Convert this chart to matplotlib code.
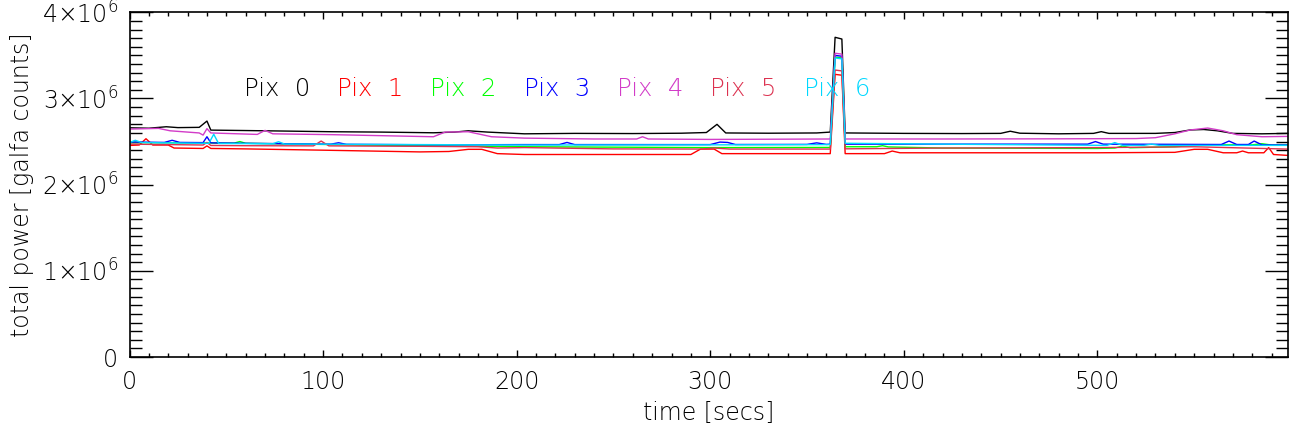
import matplotlib
matplotlib.use('Agg')
import matplotlib.pyplot as plt
from matplotlib.ticker import MultipleLocator, FixedLocator, FixedFormatter

# total power per pixel (units of 1e6 galfa counts)
pix0_t = [0, 10, 19, 25, 36, 40, 42, 60, 80, 105, 130, 157, 168, 175, 185, 204, 230, 260, 285, 298,
          303.5, 308, 330, 355, 362, 364.5, 368, 369.7, 371, 400, 430, 450, 455, 460, 480, 498, 502, 506, 530, 540,
          548, 555, 562, 570, 585, 598]
pix0_v = [2.66, 2.655, 2.672, 2.662, 2.665, 2.738, 2.633, 2.628, 2.622, 2.614, 2.61, 2.602, 2.61, 2.625, 2.61, 2.59, 2.595, 2.593, 2.597, 2.605,
          2.70, 2.60, 2.597, 2.60, 2.61, 3.71, 3.69, 2.60, 2.60, 2.595, 2.593, 2.595, 2.62, 2.597, 2.59, 2.595, 2.615, 2.595, 2.595, 2.605,
          2.635, 2.64, 2.625, 2.595, 2.59, 2.595]

pix1_t = [0, 5, 8.5, 12, 20, 23, 38, 40, 42, 60, 100, 150, 165, 175, 182, 190, 204, 250, 290, 295,
          302, 306, 362, 364.5, 368, 369.7, 371, 390, 394, 398, 420, 500, 540, 550, 557, 565, 572, 575, 578, 586,
          588.5, 591, 598]
pix1_v = [2.455, 2.46, 2.533, 2.46, 2.46, 2.425, 2.42, 2.45, 2.42, 2.415, 2.40, 2.38, 2.385, 2.41, 2.41, 2.36, 2.35, 2.35, 2.35, 2.413,
          2.413, 2.36, 2.36, 3.28, 3.27, 2.36, 2.36, 2.36, 2.39, 2.37, 2.37, 2.37, 2.375, 2.41, 2.41, 2.37, 2.37, 2.39, 2.37, 2.37,
          2.43, 2.35, 2.34]

pix2_t = [0, 30, 54, 57, 60, 120, 204, 300, 362, 364.5, 368, 369.7, 371, 386, 389, 392, 420, 500, 509, 513,
          517, 540, 554, 580, 585, 590, 598]
pix2_v = [2.488, 2.485, 2.482, 2.50, 2.48, 2.46, 2.44, 2.43, 2.432, 3.48, 3.47, 2.44, 2.44, 2.44, 2.452, 2.438, 2.425, 2.42, 2.425, 2.448,
          2.428, 2.44, 2.463, 2.462, 2.475, 2.46, 2.46]

pix3_t = [0, 18, 22, 26, 38, 40, 42, 60, 104, 108, 112, 160, 204, 222, 226, 230, 300, 305, 309, 313,
          350, 355, 360, 362, 364.5, 368, 369.7, 371, 420, 495, 499, 503, 540, 564, 568, 572, 578, 581, 585, 598]
pix3_v = [2.495, 2.49, 2.515, 2.49, 2.488, 2.556, 2.485, 2.48, 2.47, 2.486, 2.468, 2.462, 2.465, 2.465, 2.49, 2.465, 2.465, 2.494, 2.49, 2.466,
          2.467, 2.485, 2.467, 2.47, 3.50, 3.49, 2.47, 2.47, 2.47, 2.47, 2.50, 2.47, 2.468, 2.466, 2.506, 2.466, 2.466, 2.506, 2.462, 2.46]

pix4_t = [0, 15, 21, 36, 38, 40, 42, 66, 70, 74, 105, 157, 163, 175, 187, 204, 240, 262, 265, 268,
          300, 340, 362, 364.5, 368, 369.7, 371, 420, 480, 520, 530, 540, 548, 557, 565, 572, 585, 598]
pix4_v = [2.645, 2.653, 2.625, 2.60, 2.575, 2.65, 2.60, 2.583, 2.63, 2.59, 2.58, 2.556, 2.61, 2.614, 2.556, 2.54, 2.53, 2.53, 2.556, 2.53,
          2.525, 2.528, 2.53, 3.525, 3.515, 2.53, 2.53, 2.53, 2.532, 2.535, 2.545, 2.59, 2.635, 2.657, 2.625, 2.58, 2.556, 2.56]

pix5_t = [0, 20, 38, 40, 42, 60, 95, 99, 103, 150, 180, 190, 204, 250, 296, 302, 310, 362, 364.5, 368,
          369.7, 371, 420, 500, 550, 598]
pix5_v = [2.47, 2.465, 2.46, 2.49, 2.455, 2.452, 2.45, 2.506, 2.45, 2.445, 2.44, 2.425, 2.43, 2.415, 2.413, 2.425, 2.413, 2.413, 3.33, 3.32,
          2.416, 2.416, 2.425, 2.43, 2.44, 2.413]

pix6_t = [0, 3, 6, 20, 41, 43.5, 46, 74, 77, 80, 150, 204, 300, 362, 364.5, 368, 369.7, 371, 420, 480,
          505, 509, 513, 524, 528, 532, 598]
pix6_v = [2.49, 2.515, 2.49, 2.485, 2.48, 2.585, 2.478, 2.475, 2.498, 2.472, 2.465, 2.46, 2.462, 2.465, 3.47, 3.46, 2.48, 2.48, 2.47, 2.46,
          2.456, 2.488, 2.456, 2.456, 2.47, 2.456, 2.456]

labels = ['Pix  0', 'Pix  1', 'Pix  2', 'Pix  3', 'Pix  4', 'Pix  5', 'Pix  6']
colors = ['black', '#ff0000', '#00ff00', '#0000ff', '#d23cc8', '#dc3250', '#00d8ff']
ytick_vals = [0, 1e6, 2e6, 3e6, 4e6]
ytick_labels = ['0', '1×10$^{6}$', '2×10$^{6}$', '3×10$^{6}$', '4×10$^{6}$']

FW = 200  # thin strokes, close to the IDL vector font
plt.rcParams['font.family'] = ['DejaVu Sans']
plt.rcParams['font.weight'] = FW
plt.rcParams['axes.labelweight'] = FW
plt.rcParams['mathtext.fontset'] = 'custom'
plt.rcParams['mathtext.rm'] = 'DejaVu Sans:weight=200'
plt.rcParams['mathtext.it'] = 'DejaVu Sans:weight=200'
plt.rcParams['mathtext.bf'] = 'DejaVu Sans'

fig = plt.figure(figsize=(12.94, 4.32), dpi=100)
ax = fig.add_axes([0.1001, 0.1736, 0.8953, 0.7979])

series = [(pix0_t, pix0_v), (pix1_t, pix1_v), (pix2_t, pix2_v), (pix3_t, pix3_v),
          (pix4_t, pix4_v), (pix5_t, pix5_v), (pix6_t, pix6_v)]
for (t, v), c in zip(series, colors):
    ax.plot(t, [x * 1e6 for x in v], color=c, lw=1.0)

# pixel labels written inside the plot, IDL xyouts style
for i, (lab, c) in enumerate(zip(labels, colors)):
    ax.text(59 + 48.2 * i, 3.03e6, lab, color=c, fontsize=17.5, fontweight=FW, ha='left', va='baseline')

ax.set_xlim(0, 598.5)
ax.set_ylim(0, 4e6)
ax.xaxis.set_major_locator(MultipleLocator(100))
ax.xaxis.set_minor_locator(MultipleLocator(10))
ax.yaxis.set_major_locator(FixedLocator(ytick_vals))
ax.yaxis.set_major_formatter(FixedFormatter(ytick_labels))
ax.yaxis.set_minor_locator(MultipleLocator(1e5))

ax.tick_params(axis='both', which='both', direction='in', top=True, right=True, width=1.0, labelsize=17)
ax.tick_params(axis='x', which='major', length=5, pad=9)
ax.tick_params(axis='x', which='minor', length=2.8)
ax.tick_params(axis='y', which='major', length=16.5, pad=8)
ax.tick_params(axis='y', which='minor', length=8.5)
for s in ax.spines.values():
    s.set_linewidth(1.2)

ax.set_xlabel('time [secs]', fontsize=17, fontweight=FW)
ax.set_ylabel('total power [galfa counts]', fontsize=17, fontweight=FW)
ax.xaxis.label.set_va('center')
ax.xaxis.set_label_coords(0.5, -0.1625)
ax.yaxis.label.set_va('center')
ax.yaxis.set_label_coords(-0.0928, 0.5)

fig.savefig('out.png', dpi=100)
